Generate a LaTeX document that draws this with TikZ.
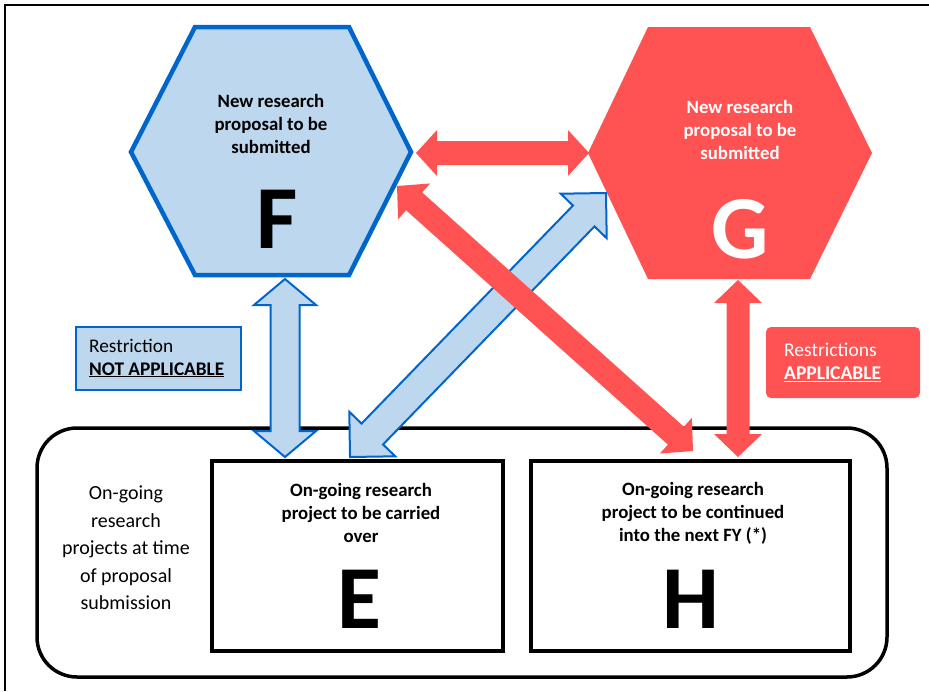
\documentclass[tikz,border=0pt]{standalone}
\usepackage{fontspec}
\setmainfont{Carlito}
\usetikzlibrary{calc}
\definecolor{lblue}{RGB}{189,215,238}
\definecolor{dblue}{RGB}{0,102,204}
\definecolor{myred}{RGB}{255,82,82}
\newcommand\fatarrow[6]{%
\path[#1] (#2) -- ($(#2)!#4!(#3)!#5!90:(#3)$) -- ($(#2)!#4!(#3)!#6!90:(#3)$) -- ($(#3)!#4!(#2)!#6!-90:(#2)$) -- ($(#3)!#4!(#2)!#5!-90:(#2)$) -- (#3) -- ($(#3)!#4!(#2)!#5!90:(#2)$) -- ($(#3)!#4!(#2)!#6!90:(#2)$) -- ($(#2)!#4!(#3)!#6!-90:(#3)$) -- ($(#2)!#4!(#3)!#5!-90:(#3)$) -- cycle;}
\tikzset{
  bluehex/.style={fill=lblue,draw=dblue,line width=4.5pt,line join=miter},
  redhex/.style={fill=myred},
  blk/.style={draw=black,line width=3.5pt},
  htext/.style={font=\bfseries\fontsize{18.8}{23}\selectfont,align=center,inner sep=0pt},
  btext/.style={font=\bfseries\fontsize{18.8}{23}\selectfont,align=center,inner sep=0pt},
  big/.style={font=\bfseries\fontsize{90}{90}\selectfont,anchor=base,inner sep=0pt},
  bluearr/.style={fill=lblue,draw=dblue,line width=2pt},
  redarr/.style={fill=myred},
}
\begin{document}
\begin{tikzpicture}[x=1pt,y=-1pt]
\useasboundingbox (0,0) rectangle (929,691);
\fill[white] (0,0) rectangle (929,691);
% frame
\draw[line width=2.5pt] (5,691) -- (5,5) -- (929,5);
% hexagons
\draw[bluehex] (195,27) -- (349,27) -- (411,152) -- (349,275) -- (195,275) -- (131,152) -- cycle;
\fill[redhex] (648,27) -- (810,27) -- (872,153) -- (810,279) -- (648,279) -- (588,153) -- cycle;
\node[htext] (Ft) at (271,124) {New research\\proposal to be\\submitted};
\node[big] (F) at (277,248) {F};
\node[htext,white] (Gt) at (740,130) {New research\\proposal to be\\submitted};
\node[big,white] (G) at (740,258) {G};
% bottom group
\draw[blk,rounded corners=40pt] (37,428) rectangle (887,677);
\draw[blk] (212,461) rectangle (503,651);
\draw[blk] (531,461) rectangle (850,651);
\node[font=\fontsize{20}{27.5}\selectfont,align=center,inner sep=0pt] (L) at (126,548) {On-going\\research\\projects at time\\of proposal\\submission};
\node[btext] (Et) at (361,513) {On-going research\\project to be carried\\over};
\node[big] (E) at (359,628) {E};
\node[btext] (Ht) at (693,513) {On-going research\\project to be continued\\into the next FY (*)};
\node[big] (H) at (691,628) {H};
% restriction boxes
\draw[fill=lblue,draw=dblue,line width=2pt] (76,327) rectangle (241,390);
\node[anchor=west,align=left,inner sep=0pt,font=\fontsize{19.3}{23}\selectfont] (R1) at (89,358) {Restriction\\\textbf{\underline{NOT APPLICABLE}}};
\fill[myred,rounded corners=5pt] (766,327) rectangle (920,398);
\node[anchor=west,align=left,inner sep=0pt,text=white,font=\fontsize{19.5}{23}\selectfont] (R2) at (784,362) {Restrictions\\\textbf{\underline{APPLICABLE}}};
% arrow end points
\coordinate (Fb) at (285,279);
\coordinate (Et1) at (285,457);
\coordinate (Et2) at (350,457);
\coordinate (Gl) at (606,193);
\coordinate (Fr) at (416,153);
\coordinate (Gr) at (589,153);
\coordinate (Frl) at (397,186);
\coordinate (Ht1) at (693,451);
\coordinate (Gb) at (738,280);
\coordinate (Ht2) at (738,457);
% arrows
\fatarrow{bluearr}{Et2}{Gl}{32pt}{32pt}{15pt}
\fatarrow{bluearr}{Fb}{Et1}{26pt}{31pt}{14.5pt}
\fatarrow{redarr}{Fr}{Gr}{21pt}{23pt}{12pt}
\fatarrow{redarr}{Frl}{Ht1}{23pt}{24pt}{12pt}
\fatarrow{redarr}{Gb}{Ht2}{23pt}{24pt}{11.5pt}
\end{tikzpicture}
\end{document}
